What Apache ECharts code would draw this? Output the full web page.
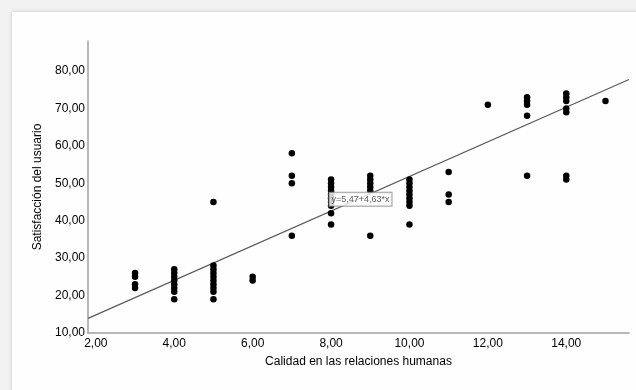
<!DOCTYPE html>
<html>
<head>
<meta charset="utf-8">
<script src="https://cdn.jsdelivr.net/npm/echarts@6/dist/echarts.min.js"></script>
<style>
  html, body { margin: 0; padding: 0; background: #f2f2f2; }
  #main { width: 636px; height: 390px; }
</style>
</head>
<body>
<div id="main"></div>
<script>
var chartDom = document.getElementById('main');
var myChart = echarts.init(chartDom);
var option;

// valores de x (calidad en las relaciones humanas)
const gruposX = [3, 4, 5, 6, 7, 8, 9, 10, 11, 12, 13, 14, 15];
// valores de y por cada x (satisfacción del usuario)
const gruposY = [
  [26, 25, 23, 22],
  [27, 26, 25, 24, 23, 22, 21, 19],
  [45, 28, 27, 26, 25, 24, 23, 22, 21, 19],
  [25, 24],
  [58, 52, 50, 36],
  [51, 50, 49, 48, 47, 46, 45, 44, 42, 39],
  [52, 51, 50, 49, 48, 36],
  [51, 50, 49, 48, 47, 46, 45, 44, 39],
  [53, 47, 45],
  [71],
  [73, 72, 71, 68, 52],
  [74, 73, 72, 70, 69, 52, 51],
  [72]
];
// extremos de la recta de regresión
const rectaX = [1.8, 15.6];
const rectaY = [13.9, 77.7];
const ticksX = [2, 4, 6, 8, 10, 12, 14];
const ticksY = [10, 20, 30, 40, 50, 60, 70, 80];
const etiquetaRecta = 'y=5,47+4,63*x';

const puntos = [];
gruposX.forEach((x, i) => {
  gruposY[i].forEach(y => puntos.push([x, y]));
});

const fmt = v => v.toFixed(2).replace('.', ',');

option = {
  animation: false,
  backgroundColor: '#f2f2f2',
  graphic: [{
    type: 'rect',
    z: -10,
    shape: { x: 12, y: 12, width: 640, height: 400 },
    style: { fill: '#fefefe', shadowBlur: 4, shadowColor: 'rgba(0,0,0,0.18)' }
  }],
  grid: { left: 88, top: 41, right: 7, bottom: 57 },
  xAxis: {
    type: 'value',
    min: 1.8,
    max: 15.6,
    name: 'Calidad en las relaciones humanas',
    nameLocation: 'middle',
    nameGap: 23,
    nameTextStyle: { color: '#000', fontSize: 12, fontFamily: 'Liberation Sans, Arial' },
    axisLine: { show: true, lineStyle: { color: '#a0a0a0', width: 1.5 } },
    axisTick: { show: false },
    splitLine: { show: false },
    axisLabel: {
      customValues: ticksX,
      formatter: fmt,
      color: '#000',
      fontSize: 12,
      margin: 5,
      fontFamily: 'Liberation Sans, Arial'
    }
  },
  yAxis: {
    type: 'value',
    min: 10,
    max: 88,
    name: 'Satisfacción del usuario',
    nameLocation: 'middle',
    nameGap: 41,
    nameTextStyle: { color: '#000', fontSize: 12, fontFamily: 'Liberation Sans, Arial' },
    axisLine: { show: true, lineStyle: { color: '#a0a0a0', width: 1.5 } },
    axisTick: { show: false },
    splitLine: { show: false },
    axisLabel: {
      customValues: ticksY,
      formatter: fmt,
      color: '#000',
      fontSize: 12,
      margin: 3,
      fontFamily: 'Liberation Sans, Arial'
    }
  },
  series: [
    {
      type: 'line',
      data: rectaX.map((x, i) => [x, rectaY[i]]),
      symbol: 'none',
      lineStyle: { color: '#5a5a5a', width: 1.2 },
      z: 2
    },
    {
      type: 'scatter',
      data: puntos,
      symbolSize: 6.5,
      itemStyle: { color: '#000', opacity: 1 },
      z: 3
    },
    {
      type: 'scatter',
      data: [[7.96, 45.7]],
      symbolSize: 0,
      z: 5,
      label: {
        show: true,
        position: 'right',
        distance: 0,
        formatter: etiquetaRecta,
        color: '#333',
        fontSize: 9,
        fontFamily: 'Liberation Sans, Arial',
        backgroundColor: '#fff',
        borderColor: '#888',
        borderWidth: 1,
        padding: [2, 2, 2, 2]
      }
    }
  ]
};

option && myChart.setOption(option);
</script>
</body>
</html>
